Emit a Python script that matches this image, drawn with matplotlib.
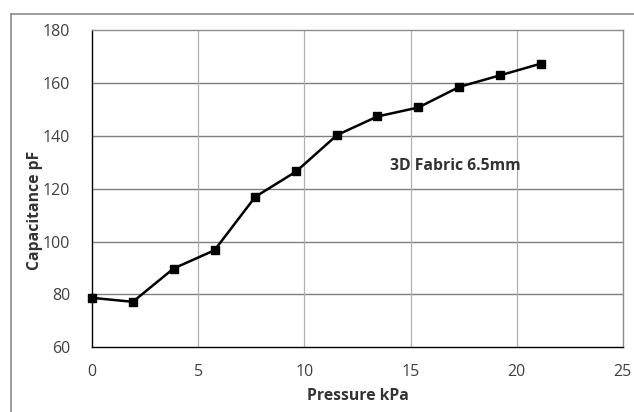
import matplotlib
matplotlib.use("Agg")
import matplotlib.pyplot as plt
from matplotlib.lines import Line2D

pressure_kpa = [0, 1.91, 3.83, 5.76, 7.68, 9.61, 11.54, 13.44, 15.37, 17.30, 19.24, 21.15]
capacitance_pf = [78.7, 77.2, 89.8, 96.7, 116.9, 126.5, 140.3, 147.3, 150.7, 158.5, 162.9, 167.3]
x_ticks = [0, 5, 10, 15, 20, 25]
y_ticks = [60, 80, 100, 120, 140, 160, 180]

plt.rcParams['font.family'] = ['Open Sans', 'DejaVu Sans']

fig = plt.figure(figsize=(6.34, 4.12), dpi=100)
fig.patch.set_facecolor('white')
# outer chart frame (top and left edges only visible)
fx = 11 / 634
fy = 1 - 14 / 412
fig.add_artist(Line2D([fx, 1.0], [fy, fy], transform=fig.transFigure, color='#8c8c8c', linewidth=1.2))
fig.add_artist(Line2D([fx, fx], [0.0, fy], transform=fig.transFigure, color='#8c8c8c', linewidth=1.2))

ax = fig.add_axes([92.3/634, 1 - 347.3/412, (622.7 - 92.3)/634, (347.3 - 30)/412])
ax.set_xlim(0, 25)
ax.set_ylim(60, 180)
ax.set_xticks(x_ticks)
ax.set_yticks(y_ticks)
ax.tick_params(length=0, labelsize=11.5, labelcolor='#404040')
ax.tick_params(axis='x', pad=12)
ax.tick_params(axis='y', pad=16)

for y in y_ticks[1:-1]:
    ax.axhline(y, color='#7f7f7f', linewidth=1.0, zorder=1)
for x in x_ticks[1:-1]:
    ax.axvline(x, color='#b0b0b0', linewidth=0.9, zorder=1)

for s in ax.spines.values():
    s.set_color('#8c8c8c')
    s.set_linewidth(1.0)
ax.spines['left'].set_color('#000000')
ax.spines['bottom'].set_color('#000000')

ax.plot(pressure_kpa, capacitance_pf, color='black', linewidth=1.8, marker='s',
        markersize=5.5, zorder=3, clip_on=False)

ax.set_xlabel('Pressure kPa', fontsize=11.3, fontweight='bold', color='#333333', labelpad=6)
fig.text(35/634, 1 - 210/412, 'Capacitance pF', rotation=90, fontsize=11.3, fontweight='bold',
         color='#333333', ha='center', va='center')

ax.text(14.03, 128.6, '3D Fabric 6.5mm', fontsize=11.3, fontweight='bold', color='#333333',
        ha='left', va='center')

fig.savefig('out.png', dpi=100)
